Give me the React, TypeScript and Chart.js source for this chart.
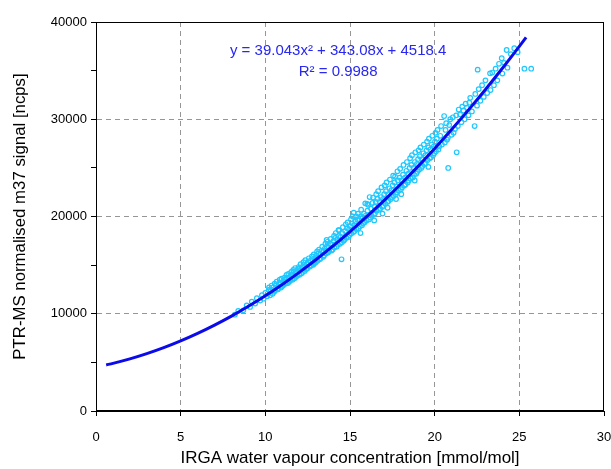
import React, { useEffect, useRef } from "react";
import { Chart, registerables } from "chart.js";

Chart.register(...registerables);

// Scatter data: IRGA water vapour concentration [mmol/mol] (x) vs PTR-MS normalised m37 signal [ncps] (y)
const waterX: number[] = [
  8.2, 8.4, 8.7, 8.9, 9.1, 9.2, 9.4, 9.5, 9.7, 9.8, 9.9, 10.0, 10.1, 10.2,
  10.22, 10.28, 10.31, 10.37, 10.43, 10.46, 10.52, 10.55, 10.58, 10.64, 10.67, 10.73,
  10.76, 10.81, 10.85, 10.88, 10.93, 10.96, 11.01, 11.05, 11.08, 11.13, 11.16, 11.21, 11.25,
  11.28, 11.33, 11.36, 11.41, 11.45, 11.48, 11.53, 11.56, 11.61, 11.65, 11.68, 11.73,
  11.76, 11.81, 11.85, 11.88, 11.93, 11.96, 12.01, 12.05, 12.08, 12.13, 12.16, 12.21, 12.25,
  12.28, 12.33, 12.36, 12.41, 12.45, 12.48, 12.53, 12.57, 12.63, 12.66, 12.71, 12.75,
  12.78, 12.83, 12.86, 12.91, 12.95,
  12.98, 13.02, 13.06, 13.08, 13.13, 13.17, 13.21, 13.24, 13.27, 13.33, 13.36, 13.42, 13.45,
  13.47, 13.51, 13.55, 13.58, 13.63, 13.66, 13.71, 13.74, 13.77, 13.83, 13.86, 13.91, 13.95,
  13.97, 14.02, 14.06, 14.08, 14.13, 14.16, 14.21, 14.25, 14.28, 14.33, 14.36, 14.41, 14.45,
  14.5, 14.52, 14.55, 14.58, 14.63, 14.66, 14.71, 14.75, 14.78, 14.83, 14.86, 14.91, 14.95,
  14.97, 15.02, 15.06, 15.08, 15.13, 15.16, 15.21, 15.25, 15.27, 15.31, 15.35, 15.38, 15.43,
  15.47, 15.51, 15.55, 15.58, 15.63, 15.66, 15.71, 15.75, 15.78, 15.83, 15.9, 15.87, 15.93, 15.98, 16.03,
  16.07, 16.12, 16.16, 16.21, 16.25, 16.28, 16.33, 16.36, 16.41, 16.45, 16.47, 16.52, 16.55,
  16.58, 16.63, 16.66, 16.71, 16.75, 16.78, 16.83, 16.86, 16.91, 16.95, 16.97, 17.02, 17.05,
  17.08, 17.13, 17.16, 17.21, 17.25, 17.28, 17.33, 17.36, 17.41, 17.45, 17.47, 17.52, 17.55,
  17.58, 17.63, 17.66, 17.71, 17.75, 17.8, 17.77, 17.83, 17.88, 17.93, 17.96, 18.01, 18.05,
  18.08, 18.13, 18.16, 18.21, 18.25, 18.28, 18.33, 18.36, 18.41, 18.45, 18.47, 18.52, 18.55,
  18.58, 18.63, 18.66, 18.71, 18.75, 18.78, 18.83, 18.86, 18.91, 18.95, 18.97, 19.02, 19.05,
  19.08, 19.13, 19.16, 19.21, 19.25, 19.28, 19.33, 19.36, 19.41, 19.45, 19.47, 19.52, 19.55,
  19.58, 19.63, 19.66, 19.71, 19.75, 19.78, 19.83, 19.86, 19.91, 19.95,
  19.98, 20.02, 20.05, 20.08, 20.13, 20.17, 20.22, 20.27, 20.33, 20.38, 20.43, 20.56, 20.6, 20.64,
  20.68, 20.73, 20.8, 20.78, 20.86, 20.92, 21.0, 21.07, 21.12, 21.2, 21.3, 21.27, 21.37, 21.42,
  21.5, 21.58, 21.63, 21.7, 21.77, 21.83, 21.9,
  22.0, 22.05, 22.1, 22.2, 22.36, 22.4, 22.5, 22.54, 22.6, 22.7, 22.8, 22.9, 23.0, 23.1,
  23.27, 23.3, 23.4, 23.5, 23.6, 23.7, 23.8, 23.96, 24.0, 24.1, 24.25, 24.3, 24.5, 24.7, 24.9, 25.3, 25.7,
  15.62, 16.43, 17.22, 18.03, 18.82, 19.63, 16.92, 17.72, 13.62, 14.32, 15.22, 16.02,
];

const m37Y: number[] = [
  9900, 10300, 10350, 10850, 10700, 11250, 11050, 11600, 11350, 11900, 11550, 12150, 11800, 12450,
  12700, 11900, 12400, 12900, 12050, 12700, 12250, 13100, 12400, 12950, 13300, 12500,
  12600, 13050, 13500, 13200, 12700, 13600, 12850, 13300, 12950, 13700, 13500, 13100, 14000,
  13700, 13150, 14100, 13300, 13800, 13450, 14300, 14000, 13500, 14500, 14300, 13650,
  14700, 13800, 14250, 13900, 14600, 14800, 14000, 14500, 15100, 14150, 14800, 14300, 15300,
  15000, 14400, 15500, 14600, 15100, 14650, 15300, 15700, 14850, 15450, 14950, 15900,
  15600, 15050, 16100, 15200, 15700,
  15300, 16000, 16400, 15450, 16200, 16600, 15600, 16100, 15700, 16500, 16900, 15850, 16400,
  16000, 16700, 17200, 16200, 16900, 17400, 16300, 16800, 16450, 17200, 17700, 16500, 17100,
  16600, 17500, 18000, 16800, 17800, 18300, 16900, 17600, 17100, 18000, 18600, 17200, 17900,
  15600, 17350, 18300, 18900, 17500, 17600, 18500, 19200, 17800, 18800, 19400, 17900, 18700,
  18100, 19000, 19700, 18250, 19300, 20000, 18400, 19100, 18500, 19500, 20000, 18700, 19700,
  20300, 18800, 19600, 19000, 20000, 20700, 19100, 19900, 19300, 20300, 21350, 19400, 20100, 19600, 20600,
  21200, 19700, 22000, 19900, 20800, 20100, 21400, 21950, 20200, 21000, 20300, 21500, 22300,
  20600, 21800, 22600, 20700, 21500, 20800, 22000, 23000, 21000, 21800, 21100, 22300, 23200,
  21300, 22600, 23500, 21500, 22300, 21600, 22900, 23800, 21800, 22700, 22000, 23200, 24200,
  22100, 23500, 24100, 22300, 23100, 24650, 22500, 23700, 22700, 24000, 24900, 22800, 23700,
  23000, 24300, 25300, 23200, 24000, 23300, 24700, 25600, 23500, 24400, 23700, 25000, 26000,
  23900, 25300, 26300, 24000, 25000, 24300, 25600, 26600, 24400, 25400, 24600, 25900, 26800,
  24800, 26200, 27100, 25000, 25900, 25200, 26500, 27400, 25400, 26300, 25500, 26800, 27700,
  25800, 27100, 28000, 26000, 26900, 26100, 27400, 28300, 26300, 27200,
  26500, 27700, 28600, 26700, 28000, 28900, 26900, 27200, 28300, 29300, 27400, 30330, 27600, 28900,
  29600, 27900, 24990, 28100, 29400, 30000, 28400, 30200, 28600, 29000, 26600, 30400, 29300, 31000,
  30500, 29700, 31300, 30900, 30000, 31600, 31200,
  30400, 31700, 32200, 30800, 29300, 32600, 31400, 35100, 33100, 31900, 33500, 32300, 34000, 32700,
  34720, 33000, 34800, 33500, 35200, 34000, 35700, 36270, 34700, 35800, 37120, 35300, 36700, 37300, 36900, 35200, 35200,
  18300, 19600, 20900, 22300, 23700, 25100, 20300, 21800, 17600, 18600, 20400, 21300,
];

// Quadratic trend line values
const fitX: number[] = [0.6, 1, 2, 3, 4, 5, 6, 7, 8, 9, 10, 11, 12, 13, 14, 15, 16, 17, 18, 19, 20, 21, 22, 23, 24, 25, 25.4];
const fitY: number[] = [
  4738, 4901, 5361, 5899, 6515, 7210, 7982, 8833, 9762, 10769, 11854, 13017, 14258, 15577, 16974, 18449, 20003, 21634,
  23344, 25131, 26997, 28941, 30963, 33063, 35241, 37497, 38421,
];

const equationLines: string[] = ["y = 39.043x\u00B2 + 343.08x + 4518.4", "R\u00B2 = 0.9988"];
const equationAnchorX = 14.3;
const equationAnchorY: number[] = [37020, 34860];

const xAxisTitle = "IRGA water vapour concentration [mmol/mol]";
const yAxisTitle = "PTR-MS normalised m37 signal [ncps]";

const FONT = "'Liberation Sans', Arial, sans-serif";

export default function App() {
  const ref = useRef<HTMLCanvasElement | null>(null);

  useEffect(() => {
    document.body.style.margin = "0";
    const canvas = ref.current;
    if (!canvas) return;

    const framePlugin = {
      id: "frame",
      afterDraw(chart: any) {
        const { ctx, chartArea } = chart;
        ctx.save();
        ctx.strokeStyle = "#000";
        ctx.lineWidth = 1;
        ctx.setLineDash([]);
        const l = Math.round(chartArea.left) + 0.5;
        const t = Math.round(chartArea.top) + 0.5;
        const r = Math.round(chartArea.right) - 0.5;
        const b = Math.round(chartArea.bottom) - 0.5;
        ctx.strokeRect(l, t, r - l, b - t);
        ctx.restore();
      },
    };

    const equationPlugin = {
      id: "equation",
      afterDatasetsDraw(chart: any) {
        const { ctx, scales } = chart;
        ctx.save();
        ctx.fillStyle = "rgb(40,40,240)";
        ctx.font = `15px ${FONT}`;
        ctx.textAlign = "center";
        ctx.textBaseline = "middle";
        const px = scales.x.getPixelForValue(equationAnchorX);
        equationLines.forEach((line, i) => {
          ctx.fillText(line, px, scales.y.getPixelForValue(equationAnchorY[i]));
        });
        ctx.restore();
      },
    };

    const chart = new Chart(canvas, {
      type: "scatter",
      data: {
        datasets: [
          {
            type: "line",
            label: "fit",
            data: fitX.map((x, i) => ({ x, y: fitY[i] })),
            borderColor: "rgb(10,10,235)",
            borderWidth: 3,
            pointRadius: 0,
            cubicInterpolationMode: "monotone",
            fill: false,
            order: 0,
          } as any,
          {
            label: "m37",
            data: waterX.map((x, i) => ({ x, y: m37Y[i] })),
            pointStyle: "circle",
            pointRadius: 2.3,
            borderWidth: 1.2,
            borderColor: "rgb(30,200,255)",
            backgroundColor: "rgba(0,0,0,0)",
            order: 1,
          },
        ],
      },
      options: {
        responsive: false,
        animation: false,
        devicePixelRatio: 1,
        layout: { padding: { top: 22, right: 7, left: 0, bottom: 0 } },
        plugins: {
          legend: { display: false },
          tooltip: { enabled: false },
        },
        scales: {
          x: {
            type: "linear",
            min: 0,
            max: 30,
            afterFit: (scale: any) => {
              scale.height = 58;
              scale.paddingLeft = 0;
              scale.paddingRight = 0;
            },
            ticks: {
              stepSize: 5,
              color: "#000",
              padding: 14,
              font: { family: FONT, size: 13 },
            },
            grid: {
              color: (ctx: any) =>
                ctx.tick && (ctx.tick.value === 0 || ctx.tick.value === 30) ? "rgba(0,0,0,0)" : "rgb(150,150,150)",
              tickColor: "#000",
              tickLength: 5,
              tickBorderDash: [],
              lineWidth: 1,
            },
            border: { display: true, color: "#000", width: 1, dash: [5, 4] },
            title: {
              display: true,
              text: xAxisTitle,
              color: "#000",
              font: { family: FONT, size: 17 },
              padding: { top: 2, bottom: 0 },
            },
          },
          y: {
            type: "linear",
            min: 0,
            max: 40000,
            afterFit: (scale: any) => {
              scale.width = 96;
              scale.paddingTop = 0;
              scale.paddingBottom = 0;
            },
            ticks: {
              stepSize: 5000,
              color: "#000",
              padding: 4,
              font: { family: FONT, size: 13 },
              callback: (v: any) => (Number(v) % 10000 === 0 ? String(v) : ""),
            },
            grid: {
              color: (ctx: any) => {
                const v = ctx.tick ? ctx.tick.value : 0;
                return v === 0 || v === 40000 || v % 10000 !== 0 ? "rgba(0,0,0,0)" : "rgb(150,150,150)";
              },
              tickColor: "#000",
              tickLength: 5,
              tickBorderDash: [],
              lineWidth: 1,
            },
            border: { display: true, color: "#000", width: 1, dash: [5, 4] },
            title: {
              display: true,
              text: yAxisTitle,
              color: "#000",
              font: { family: FONT, size: 16.8 },
              padding: { top: 10, bottom: 0 },
            },
          },
        },
      },
      plugins: [framePlugin, equationPlugin],
    });

    return () => {
      chart.destroy();
    };
  }, []);

  return <canvas ref={ref} width={611} height={469} style={{ display: "block" }} />;
}
